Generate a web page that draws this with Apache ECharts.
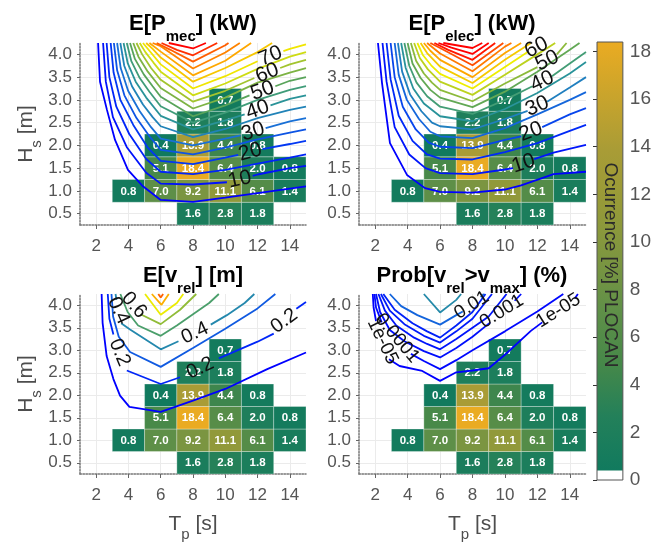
<!DOCTYPE html>
<html><head><meta charset="utf-8">
<script src="https://cdn.jsdelivr.net/npm/echarts@6/dist/echarts.min.js"></script>
<style>html,body{margin:0;padding:0;background:#fff}#c{width:654px;height:543px}</style>
</head><body><div id="c"></div>
<script>
// ---------- DATA ----------
const tpTicks = [2,4,6,8,10,12,14];
const hsTicks = [0.5,1.0,1.5,2.0,2.5,3.0,3.5,4.0];
const cbTicks = [0,2,4,6,8,10,12,14,16,18];
const cbRange = [0, 18.4];
const cbWhiteTop = 0.4;

const cellTp  = [8,10,12, 4,6,8,10,12,14, 6,8,10,12,14, 6,8,10,12, 8,10, 10];
const cellHs  = [0.5,0.5,0.5, 1,1,1,1,1,1, 1.5,1.5,1.5,1.5,1.5, 2,2,2,2, 2.5,2.5, 3];
const cellOcc = [1.6,2.8,1.8, 0.8,7.0,9.2,11.1,6.1,1.4, 5.1,18.4,6.4,2.0,0.8, 0.4,13.9,4.4,0.8, 2.2,1.8, 0.7];

// E[Pmec] contours (kW)
const pmecLevels = [5,10,15,20,25,30,35,40,45,50,55,60,65,70,75,80,85,90,95,100];
const pmecLines = [
 [[2.12,4.25],[2.24,3.4],[2.67,2.78],[3.17,2.12],[3.97,1.46],[4.9,1.1],[6,0.8],[8,0.76],[10,0.85],[12,0.95],[14,1.05],[15,1.1]],
 [[2.43,4.25],[2.6,3.4],[3.04,2.62],[3.9,1.96],[5.1,1.4],[6,1.16],[8,1.14],[10.1,1.19],null,[11.7,1.33],[12,1.36],[14,1.5],[15,1.55]],
 [[2.65,4.25],[2.82,3.5],[3.25,2.85],[4.05,2.25],[5.1,1.7],[6,1.42],[8,1.37],[10,1.46],[12,1.6],[14,1.73],[15,1.8]],
 [[2.9,4.25],[3.08,3.6],[3.5,3.0],[4.3,2.45],[5.2,1.95],[6,1.66],[8,1.59],[10,1.73],[10.8,1.79],null,[12.3,1.92],[14,2.03],[15,2.1]],
 [[3.1,4.25],[3.3,3.65],[3.75,3.1],[4.5,2.6],[5.3,2.2],[6,1.9],[8,1.8],[10,1.95],[12,2.13],[14,2.28],[15,2.35]],
 [[3.3,4.25],[3.52,3.7],[3.98,3.2],[4.7,2.75],[5.4,2.4],[6,2.15],[8,2.0],[10,2.15],[10.95,2.22],null,[12.5,2.38],[14,2.53],[15,2.6]],
 [[3.5,4.25],[3.74,3.75],[4.22,3.3],[4.9,2.9],[5.5,2.62],[6,2.42],[8,2.18],[10,2.36],[12,2.6],[14,2.78],[15,2.85]],
 [[3.7,4.25],[3.96,3.8],[4.45,3.4],[5.1,3.05],[6,2.65],[8,2.35],[10,2.55],[11.2,2.68],null,[12.8,2.88],[14,3.02],[15,3.1]],
 [[3.9,4.25],[4.18,3.85],[4.7,3.48],[5.3,3.18],[6,2.86],[8,2.5],[10,2.72],[12,3.0],[14,3.22],[15,3.3]],
 [[4.1,4.25],[4.4,3.9],[4.95,3.56],[5.5,3.3],[6,3.07],[8,2.64],[10,2.88],[11.5,3.1],null,[13.1,3.3],[14,3.42],[15,3.5]],
 [[4.3,4.25],[4.62,3.95],[5.2,3.62],[6,3.26],[8,2.81],[10,3.05],[12,3.38],[14,3.6],[15,3.7]],
 [[4.5,4.25],[4.85,4.0],[5.4,3.7],[6,3.44],[8,2.96],[10,3.2],[11.8,3.48],null,[13.4,3.7],[14,3.78],[15,3.88]],
 [[4.7,4.25],[5.05,4.05],[5.55,3.82],[6,3.62],[8,3.1],[10,3.36],[12,3.68],[14,3.95],[15,4.05]],
 [[4.9,4.25],[5.3,4.08],[6,3.78],[8,3.25],[10,3.52],[12.0,3.85],null,[13.6,4.07],[14,4.12],[15,4.22]],
 [[5.1,4.25],[5.5,4.12],[6,3.93],[8,3.40],[10,3.7],[12,4.05],[12.9,4.25]],
 [[5.3,4.25],[6,4.06],[8,3.54],[10,3.86],[11.6,4.25]],
 [[5.5,4.25],[6,4.18],[8,3.69],[10,4.04],[10.9,4.25]],
 [[5.75,4.25],[6.6,4.1],[8,3.84],[10,4.2],[10.2,4.25]],
 [[6.05,4.25],[7,4.1],[8,3.98],[9.5,4.25]],
 [[6.5,4.25],[8,4.13],[8.8,4.25]]
];
const pmecLabels = [[10.9,1.25,'10'],[11.55,1.85,'20'],[11.72,2.3,'30'],[12.0,2.78,'40'],[12.3,3.2,'50'],[12.6,3.59,'60'],[12.8,3.96,'70']];

// E[Pelec] contours (kW)
const pelecLevels = [5,10,15,20,25,30,35,40,45,50,55,60,65,70,75,80,85,90,95];
const pelecLines = [
 [[2.17,4.25],[2.42,3.37],[2.91,2.05],[3.96,1.35],[5.07,1.06],[6,0.98],[8,0.96],[10,1.03],[11,1.12],[13,1.37],[15,1.42]],
 [[2.45,4.25],[2.7,3.4],[3.2,2.4],[4.1,1.8],[5.1,1.5],[6,1.39],[8,1.37],[10,1.47],[10.5,1.5],null,[11.8,1.7],[13,1.84],[15,2.01]],
 [[2.7,4.25],[2.95,3.45],[3.45,2.65],[4.3,2.1],[5.2,1.8],[6,1.71],[8,1.69],[10,1.85],[12,2.05],[14,2.32],[15,2.45]],
 [[2.95,4.25],[3.2,3.5],[3.7,2.85],[4.5,2.35],[5.3,2.06],[6,1.97],[8,1.94],[10,2.12],[11.0,2.2],null,[12.3,2.4],[14,2.68],[15,2.82]],
 [[3.2,4.25],[3.45,3.55],[3.95,3.0],[4.7,2.58],[5.4,2.3],[6,2.2],[8,2.16],[10,2.38],[12,2.68],[14,3.0],[15,3.17]],
 [[3.4,4.25],[3.66,3.62],[4.15,3.12],[4.85,2.75],[5.5,2.5],[6,2.42],[8,2.35],[10,2.58],[11.4,2.76],null,[12.6,2.96],[14,3.27],[15,3.5]],
 [[3.6,4.25],[3.88,3.7],[4.35,3.25],[5.0,2.92],[6,2.64],[8,2.53],[10,2.8],[12,3.15],[14,3.58],[15,3.83]],
 [[3.8,4.25],[4.1,3.75],[4.55,3.38],[5.2,3.08],[6,2.85],[8,2.69],[10,3.0],[11.7,3.3],null,[12.9,3.52],[14,3.8],[15,4.05]],
 [[4.0,4.25],[4.3,3.8],[4.8,3.48],[5.4,3.22],[6,3.05],[8,2.84],[10,3.18],[12,3.62],[14,4.1],[14.6,4.25]],
 [[4.2,4.25],[4.52,3.86],[5.0,3.58],[5.5,3.38],[6,3.22],[8,2.97],[10,3.36],[12.0,3.72],null,[13.2,4.0],[13.8,4.25]],
 [[4.4,4.25],[4.75,3.92],[5.25,3.67],[6,3.4],[8,3.11],[10,3.55],[12,4.0],[13.1,4.25]],
 [[4.6,4.25],[4.95,3.98],[5.45,3.76],[6,3.57],[8,3.25],[10,3.72],[11.4,4.05]],
 [[4.8,4.25],[5.2,4.03],[6,3.73],[8,3.37],[10,3.88],[11.6,4.25]],
 [[5.0,4.25],[5.4,4.08],[6,3.88],[8,3.50],[10,4.03],[11.0,4.25]],
 [[5.2,4.25],[6,4.02],[8,3.63],[10,4.17],[10.4,4.25]],
 [[5.4,4.25],[6,4.14],[8,3.76],[9.9,4.25]],
 [[5.65,4.25],[6.5,4.1],[8,3.88],[9.4,4.25]],
 [[5.9,4.25],[6.7,4.15],[8,4.01],[9.0,4.25]],
 [[6.2,4.25],[8,4.14],[8.6,4.25]]
];
const pelecLabels = [[11.15,1.6,'10'],[11.6,2.3,'20'],[12.0,2.86,'30'],[12.3,3.41,'40'],[12.6,3.86,'50'],[11.95,4.15,'60']];

// E[vrel] contours (m)
const vrelLevels = [0.1,0.2,0.3,0.4,0.5,0.6,0.7,0.8,0.9];
const vrelLines = [
 [[2.34,4.25],[2.40,3.61],[2.65,2.87],[3.07,2.36],[3.48,1.99],[4.06,1.74],[6,1.63],[8,1.88],[10,2.14],[12.6,2.58],[15,2.95]],
 [[2.72,4.25],[2.82,3.7],[3.07,3.35],null,[3.9,2.55],[6,2.25],[7.2,2.4],null,[9.6,2.82],[12.0,3.19],[13.0,3.37],null,[14.4,3.92],[15,4.07]],
 [[2.95,4.25],[3.05,3.75],[3.4,3.3],[4.1,2.96],[6,2.63],[8,3.05],[10,3.48],[12,3.93],[13.1,4.25]],
 [[3.2,4.25],[3.26,4.12],null,[3.55,3.6],[4.1,3.46],[6,3.02],[7.1,3.2],null,[9.1,3.57],[10.1,3.78],[11.2,4.05],[11.8,4.25]],
 [[3.5,4.25],[3.95,3.85],[4.6,3.55],[6,3.32],[7.0,3.55],[8.0,3.8],[9.0,4.05],[9.6,4.25]],
 [[4.75,3.8],[6,3.58],[7.2,3.9],[8.2,4.25]],
 [[5.03,4.25],[6,3.79],[7.0,4.05],[7.4,4.25]],
 [[5.45,4.25],[6.05,4.01],[6.5,4.25]],
 [[5.85,4.25],[6.0,4.17],[6.15,4.25]]
];
const vrelLabels = [[3.45,2.95,'0.2'],[8.45,2.6,'0.2'],[13.65,3.65,'0.2'],[3.38,3.88,'0.4'],[8.12,3.38,'0.4'],[4.35,4.0,'0.6']];

// Prob[vrel > vmax] contours (%)
const probLines = [
 [[1.85,4.25],[1.9,3.95],[2.05,3.65],null,[2.85,2.8],[3.5,2.65],[4.9,2.54],[6,2.32],[7,2.51],[8,2.55],[9,2.6],[10,2.9],[11.6,3.43],[12.3,3.62],null,[14.3,4.15],[14.5,4.25]],
 [[1.95,4.25],[2.05,3.95],[2.4,3.62],null,[4.2,2.92],[5,2.76],[6,2.58],[7,2.78],[8,3.0],[10,3.42],[12,3.86],[13.6,4.25]],
 [[2.05,4.25],[2.3,3.85],[2.9,3.45],[3.8,3.2],[5,2.98],[6,2.84],[7,3.05],[8,3.3],[9.1,3.62],null,[10.6,4.1],[11.0,4.25]],
 [[2.2,4.25],[2.6,3.88],[3.3,3.55],[4.4,3.28],[5.2,3.14],[6,3.02],[7,3.25],[8,3.5],[9,3.75],[10.1,4.25]],
 [[2.35,4.25],[2.9,3.88],[3.8,3.58],[5,3.32],[6,3.17],[7,3.42],[8,3.7],[9.2,4.25]],
 [[2.5,4.25],[3.2,3.9],[4.3,3.6],[5.2,3.42],[6,3.28],[7,3.55],[8,3.85],[8.8,4.25]],
 [[2.9,4.25],[3.6,3.98],[4.6,3.78],[6,3.57],[7,3.78],[7.4,3.86],null,[8.5,4.18],[8.7,4.25]],
 [[5.0,4.25],[6,3.84],[7,4.12],[7.3,4.25]]
];
const probLabels = [[2.45,3.2,'1e-05'],[3.35,3.27,'0.0001'],[9.8,3.86,'0.001'],[7.95,4.0,'0.01'],[13.3,3.88,'1e-05']];

// ---------- STYLE ----------
const FONT = 'Liberation Sans, Arial, Helvetica, sans-serif';
const pmecRot  = [12,15,17,19,20,21,22];
const pelecRot = [18,21,23,25,26,26];
const vrelRot  = [-68,25,36,-65,25,-48];
const probRot  = [-64,-50,32,32,32];
const probT    = [0,0.02,0.04,0.06,0.08,0.1,0.24,0.34];
const occColors = ['#117a5e','#23805a','#468849','#609048','#7e9640','#979a38','#a99c36','#c9a42c','#eaab22'];
const lineStops = [[0,'#0000ff'],[0.15,'#0033f5'],[0.27,'#1a74d4'],[0.37,'#2a9497'],[0.47,'#56a35c'],[0.57,'#9bc032'],[0.67,'#eeee00'],[0.8,'#ffa200'],[0.9,'#ff5a00'],[1,'#ff0000']];

function hex2rgb(h){return [parseInt(h.slice(1,3),16),parseInt(h.slice(3,5),16),parseInt(h.slice(5,7),16)];}
function cmap(t){
  t=Math.max(0,Math.min(1,t));
  for(let i=1;i<lineStops.length;i++){
    if(t<=lineStops[i][0]){
      const a=lineStops[i-1],b=lineStops[i];const f=(t-a[0])/(b[0]-a[0]);
      const ca=hex2rgb(a[1]),cb=hex2rgb(b[1]);
      return 'rgb('+ca.map((v,k)=>Math.round(v+(cb[k]-v)*f)).join(',')+')';
    }
  }
  return lineStops[lineStops.length-1][1];
}

const panels = [
  {lines:pmecLines,  colors:pmecLevels.map(L=>cmap((L-5)/95)),   labels:pmecLabels,  rot:pmecRot,  fs:21},
  {lines:pelecLines, colors:pelecLevels.map(L=>cmap((L-5)/82)),  labels:pelecLabels, rot:pelecRot, fs:21},
  {lines:vrelLines,  colors:vrelLevels.map(L=>cmap((L-0.1)/0.9)),labels:vrelLabels,  rot:vrelRot,  fs:20},
  {lines:probLines,  colors:probT.map(t=>cmap(t)),                labels:probLabels,  rot:probRot,  fs:19}
];
const gridPos = [
  {left:80, top:43, width:226, height:182},
  {left:359,top:43, width:227, height:182},
  {left:80, top:294,width:226, height:182},
  {left:359,top:294,width:227, height:182}
];

const titleRich = {
  a:{fontSize:22,fontWeight:'bold',color:'#000',fontFamily:FONT,lineHeight:40,verticalAlign:'middle'},
  s:{fontSize:15,fontWeight:'bold',color:'#000',fontFamily:FONT,lineHeight:40,verticalAlign:'bottom'}
};
const nameRich = {
  a:{fontSize:21,color:'#4d4d4d',fontFamily:FONT,lineHeight:36,verticalAlign:'middle'},
  s:{fontSize:15,color:'#4d4d4d',fontFamily:FONT,lineHeight:36,verticalAlign:'bottom'}
};

function splitSegs(line){
  const out=[];let cur=[];
  line.forEach(p=>{ if(p===null){ if(cur.length>1) out.push(cur); cur=[]; } else cur.push(p); });
  if(cur.length>1) out.push(cur);
  return out;
}

const grids=[], xAxes=[], yAxes=[], series=[];
gridPos.forEach((g,i)=>{
  grids.push(Object.assign({containLabel:false},g));
  const bottomRow = i>=2, leftCol = (i%2===0);
  xAxes.push({
    gridIndex:i,type:'value',min:1,max:15,interval:2,
    axisLine:{show:true,onZero:false,lineStyle:{color:'#777',type:'dotted',width:1.5}},
    axisTick:{show:true,customValues:tpTicks,length:4,lineStyle:{color:'#666'}},
    axisLabel:{show:true,customValues:tpTicks,margin:13,fontSize:17,color:'#555',fontFamily:FONT},
    splitLine:{show:true,lineStyle:{color:'#ebebeb',width:1}},
    name: bottomRow ? '{a|T}{s|p}{a| [s]}' : '',
    nameLocation:'middle',nameGap:32,nameTextStyle:{rich:nameRich}
  });
  yAxes.push({
    gridIndex:i,type:'value',min:0.25,max:4.25,interval:0.5,
    axisLine:{show:true,onZero:false,lineStyle:{color:'#777',type:'dotted',width:1.5}},
    axisTick:{show:true,customValues:hsTicks,length:3,lineStyle:{color:'#666'}},
    axisLabel:{show:true,customValues:hsTicks,formatter:v=>Number(v).toFixed(1),margin:8,fontSize:17,color:'#555',fontFamily:FONT},
    splitLine:{show:true,lineStyle:{color:'#ebebeb',width:1}},
    name: leftCol ? '{a|H}{s|s}{a| [m]}' : '',
    nameLocation:'middle',nameGap:36,nameRotate:90,nameTextStyle:{rich:nameRich}
  });
});
// colorbar grid
grids.push({left:597,top:42,width:27,height:438});
xAxes.push({gridIndex:4,type:'value',min:0,max:1,show:false});
yAxes.push({gridIndex:4,type:'value',min:cbRange[0],max:cbRange[1],interval:2,position:'right',
  axisLine:{show:false},
  axisTick:{show:true,inside:true,customValues:cbTicks,length:4,lineStyle:{color:'#333'}},
  axisLabel:{show:true,customValues:cbTicks,margin:7,fontSize:19,color:'#555',fontFamily:FONT},
  splitLine:{show:false}});

// cell series (0..3)
const cellData = cellTp.map((t,k)=>[t,cellHs[k],cellOcc[k]]);
function cellRender(params,api){
  const x=api.value(0),y=api.value(1),v=api.value(2);
  const p1=api.coord([x-1,y+0.25]),p2=api.coord([x+1,y-0.25]);
  const w=p2[0]-p1[0],h=p2[1]-p1[1];
  return {type:'group',children:[
    {type:'rect',shape:{x:p1[0],y:p1[1],width:w,height:h},style:{fill:api.visual('color'),stroke:'rgba(255,255,255,0.3)',lineWidth:1}},
    {type:'text',style:{x:p1[0]+w/2,y:p1[1]+h/2+0.5,text:v.toFixed(1),align:'center',verticalAlign:'middle',fill:'#fff',fontSize:11.5,fontWeight:'bold',fontFamily:FONT}}
  ]};
}
for(let i=0;i<4;i++){
  series.push({type:'custom',coordinateSystem:'cartesian2d',xAxisIndex:i,yAxisIndex:i,data:cellData,
    encode:{x:0,y:1},renderItem:cellRender,z:2,silent:true});
}
// colorbar series (4)
series.push({type:'custom',coordinateSystem:'cartesian2d',xAxisIndex:4,yAxisIndex:4,data:[[0,cbRange[1]]],z:2,silent:true,
  renderItem:(params,api)=>{
    const pTop=api.coord([0,cbRange[1]]),pW=api.coord([0,cbWhiteTop]),pB=api.coord([0,cbRange[0]]),pR=api.coord([1,cbRange[0]]);
    const w=pR[0]-pTop[0];
    return {type:'group',children:[
      {type:'rect',shape:{x:pTop[0],y:pW[1],width:w,height:pB[1]-pW[1]},style:{fill:'#fff'}},
      {type:'rect',shape:{x:pTop[0],y:pTop[1],width:w,height:pW[1]-pTop[1]},
        style:{fill:{type:'linear',x:0,y:1,x2:0,y2:0,colorStops:occColors.map((c,k)=>({offset:k/(occColors.length-1),color:c}))}}},
      {type:'rect',shape:{x:pTop[0],y:pTop[1],width:w,height:pB[1]-pTop[1]},style:{fill:'none',stroke:'#555',lineWidth:1}}
    ]};
  }});

// contour lines + labels
panels.forEach((p,i)=>{
  p.lines.forEach((line,k)=>{
    splitSegs(line).forEach(seg=>{
      series.push({type:'line',xAxisIndex:i,yAxisIndex:i,data:seg,symbol:'none',smooth:false,clip:true,silent:true,
        lineStyle:{color:p.colors[k],width:1.8},z:3});
    });
  });
  series.push({type:'custom',coordinateSystem:'cartesian2d',xAxisIndex:i,yAxisIndex:i,z:4,silent:true,
    data:p.labels.map(l=>[l[0],l[1]]),encode:{x:0,y:1},
    renderItem:(params,api)=>{
      const k=params.dataIndex;const l=p.labels[k];
      const c=api.coord([l[0],l[1]]);
      return {type:'text',x:c[0],y:c[1],rotation:p.rot[k]*Math.PI/180,
        style:{text:l[2],align:'center',verticalAlign:'middle',fill:'#111',fontSize:p.fs,fontFamily:FONT}};
    }});
});

const option = {
  animation:false,
  backgroundColor:'#fff',
  title:[
    {text:'{a|E[P}{s|mec}{a|] (kW)}',left:193,top:4,textAlign:'center',padding:0,textStyle:{rich:titleRich}},
    {text:'{a|E[P}{s|elec}{a|] (kW)}',left:472,top:4,textAlign:'center',padding:0,textStyle:{rich:titleRich}},
    {text:'{a|E[v}{s|rel}{a|] [m]}',left:193,top:256,textAlign:'center',padding:0,textStyle:{rich:titleRich}},
    {text:'{a|Prob[v}{s|rel}{a|>v}{s|max}{a|] (%)}',left:472,top:256,textAlign:'center',padding:0,textStyle:{rich:titleRich}}
  ],
  grid:grids,xAxis:xAxes,yAxis:yAxes,
  visualMap:{type:'continuous',show:false,min:cbWhiteTop,max:cbRange[1],dimension:2,seriesIndex:[0,1,2,3],inRange:{color:occColors}},
  graphic:[{type:'text',x:610,y:265,rotation:-Math.PI/2,z:10,
    style:{text:'Ocurrence [%] PLOCAN',align:'center',verticalAlign:'middle',fill:'#2b2b2b',fontSize:19,fontFamily:FONT}}],
  series:series
};
const chart = echarts.init(document.getElementById('c'),null,{renderer:'canvas'});
chart.setOption(option);
</script></body></html>
